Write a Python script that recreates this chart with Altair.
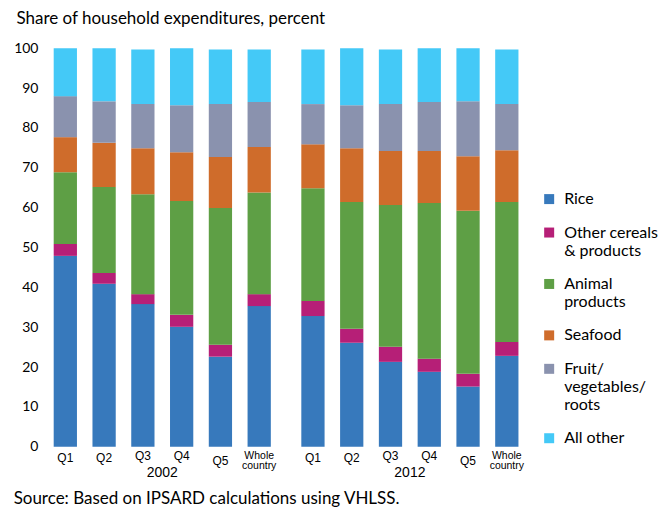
import altair as alt
import pandas as pd

groups = ["Q1", "Q2", "Q3", "Q4", "Q5", "Whole country"]
years = ["2002", "2012"]
categories = ["Rice", "Other cereals & products", "Animal products", "Seafood",
              "Fruit/ vegetables/ roots", "All other"]
legend_lines = [["Rice"], ["Other cereals", "& products"], ["Animal", "products"],
                ["Seafood"], ["Fruit/", "vegetables/", "roots"], ["All other"]]
colors = ["#3779BC", "#B61F77", "#5E9F45", "#CF6C2B", "#8A92AE", "#44C9F7"]

# values per category, 2002 then 2012, in order Q1..Q5, Whole country
rice_2002 = [47.9, 40.9, 35.8, 30.1, 22.6, 35.3]
rice_2012 = [32.8, 26.1, 21.3, 18.8, 15.1, 22.8]
cereals_2002 = [3.0, 2.7, 2.5, 3.0, 3.0, 3.0]
cereals_2012 = [3.8, 3.5, 3.8, 3.3, 3.2, 3.5]
animal_2002 = [18.0, 21.6, 25.1, 28.6, 34.3, 25.5]
animal_2012 = [28.3, 31.8, 35.6, 39.1, 40.9, 35.1]
seafood_2002 = [8.8, 11.1, 11.5, 12.2, 12.8, 11.4]
seafood_2012 = [11.0, 13.5, 13.5, 13.0, 13.7, 13.0]
fruit_2002 = [10.3, 10.4, 11.1, 11.8, 13.3, 11.3]
fruit_2012 = [10.1, 10.8, 11.8, 12.3, 13.8, 11.6]
other_2002 = [12.0, 13.3, 13.7, 14.3, 13.7, 13.2]
other_2012 = [13.7, 14.3, 13.7, 13.5, 13.3, 13.7]

series = {
    "2002": [rice_2002, cereals_2002, animal_2002, seafood_2002, fruit_2002, other_2002],
    "2012": [rice_2012, cereals_2012, animal_2012, seafood_2012, fruit_2012, other_2012],
}

rows = []
for yr in years:
    for ci, cat in enumerate(categories):
        for gi, g in enumerate(groups):
            rows.append({"year": yr, "group": g, "category": cat,
                         "order": ci, "value": series[yr][ci][gi]})
df = pd.DataFrame(rows)

legend_expr = " : ".join(
    [f"datum.label == '{c}' ? {lines!r}" for c, lines in zip(categories, legend_lines)]
) + " : datum.label"

base = alt.Chart(df).mark_bar().encode(
    x=alt.X("group:N", sort=groups,
            scale=alt.Scale(paddingInner=0.4, paddingOuter=0.2),
            axis=alt.Axis(
                title=None, domain=False, ticks=False, labelAngle=0,
                labelFont="Liberation Sans", labelColor="#000000",
                labelFontSize={"condition": {"test": "datum.value == 'Whole country'", "value": 10.5}, "value": 12},
                labelPadding={"condition": [
                    {"test": "datum.value == 'Q3' || datum.value == 'Q4'", "value": 4},
                    {"test": "datum.value == 'Q5'", "value": 9},
                    {"test": "datum.value == 'Whole country'", "value": 4}], "value": 6},
                labelBaseline="top", labelLineHeight=10,
                labelExpr="datum.value == 'Whole country' ? ['Whole', 'country'] : datum.label")),
    y=alt.Y("value:Q", stack="zero",
            scale=alt.Scale(domain=[0, 100], nice=False),
            axis=alt.Axis(
                values=[0, 10, 20, 30, 40, 50, 60, 70, 80, 90, 100],
                domain=False, ticks=False, tickSize=0, grid=False,
                labelFont="Lato", labelFontSize=14, labelColor="#000000",
                labelPadding=8, minExtent=30, maxExtent=30,
                title="Share of household expenditures, percent",
                titleAngle=0, titleX=-30, titleY=-30, titleAlign="left",
                titleBaseline="middle", titleFont="Lato", titleFontSize=17,
                titleFontWeight="normal", titleColor="#000000")),
    color=alt.Color("category:N", sort=categories,
                    scale=alt.Scale(domain=categories, range=colors),
                    legend=alt.Legend(
                        orient="none", legendX=496, legendY=143, title=None,
                        symbolType="square", symbolSize=100, symbolStrokeWidth=0,
                        labelFont="Lato", labelFontSize=16, labelColor="#000000",
                        rowPadding=17.5, labelOffset=7,
                        labelExpr=legend_expr)),
    order=alt.Order("order:Q", sort="ascending"),
).properties(width=233, height=399)

chart = base.facet(
    column=alt.Column("year:N", sort=years,
                      header=alt.Header(labelOrient="bottom", title=None,
                                        labelFont="Liberation Sans", labelFontSize=14,
                                        labelColor="#000000", labelPadding=-5)),
    spacing=15,
).properties(
    title=alt.TitleParams("Source: Based on IPSARD calculations using VHLSS.",
                          orient="bottom", anchor="start", frame="bounds",
                          font="Lato", fontSize=17, fontWeight="normal",
                          color="#000000", offset=11),
    padding={"left": 5, "top": 1, "right": 0, "bottom": 0},
).configure_view(stroke=None)

chart.save("out.html", embed_options={"renderer": "svg", "actions": False})
